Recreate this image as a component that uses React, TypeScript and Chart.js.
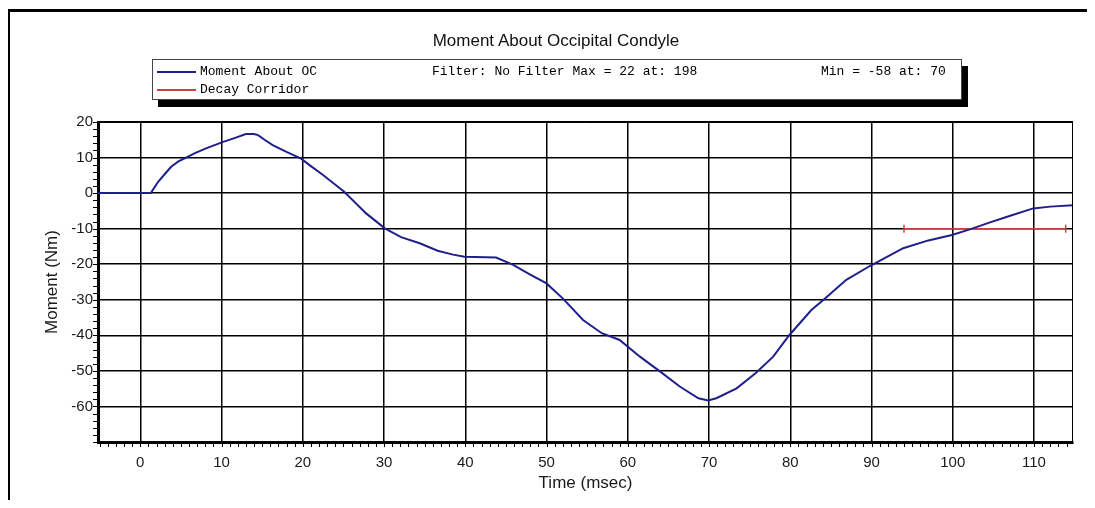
import React, { useEffect, useRef } from "react";
import { Chart, registerables } from "chart.js";

Chart.register(...registerables);

// ---- data ----
const timeMs = [
  -5.2, 0, 1.3, 2.2, 3.0, 3.8, 4.7, 5.65, 6.8, 8.1, 10.2, 11.5, 13.0, 14.0, 14.5, 15.3,
  16.3, 18.0, 19.8, 21.0, 22.5, 25.1, 27.8, 30.1, 32.1, 34.4, 36.6, 38.5, 39.9, 43.8,
  45.9, 48.0, 50.0, 52.0, 54.5, 56.8, 59.0, 61.5, 64.0, 66.4, 68.7, 69.9, 70.9, 73.4,
  75.8, 77.9, 79.9, 82.6, 84.1, 86.9, 89.8, 93.9, 97.0, 99.9, 102.1, 104.5, 106.6,
  109.9, 112.0, 114.8,
];
const momentNm = [
  0, 0, 0, 3.2, 5.3, 7.4, 8.9, 10.0, 11.3, 12.6, 14.4, 15.4, 16.6, 16.6, 16.3, 15.0,
  13.5, 11.6, 9.7, 7.6, 5.1, 0.4, -5.7, -9.9, -12.4, -14.1, -16.2, -17.3, -17.9, -18.1,
  -20.2, -22.9, -25.4, -29.6, -35.7, -39.4, -41.3, -46.0, -50.2, -54.4, -57.7, -58.3,
  -57.7, -54.9, -50.5, -46.0, -39.9, -32.9, -30.0, -24.4, -20.5, -15.5, -13.3, -11.8,
  -10.2, -8.3, -6.7, -4.3, -3.8, -3.4,
];
const corridorTime = [94.0, 113.9];
const corridorMoment = [-10, -10];

const xTickValues = [0, 10, 20, 30, 40, 50, 60, 70, 80, 90, 100, 110];
const yTickValues = [-60, -50, -40, -30, -20, -10, 0, 10, 20];

const chartTitle = "Moment About Occipital Condyle";
const seriesNames = ["Moment About OC", "Decay Corridor"];
const filterText = "Filter: No Filter Max = 22 at: 198";
const minText = "Min = -58 at: 70";
const xTitle = "Time (msec)";
const yTitle = "Moment (Nm)";

const SANS = "'Liberation Sans', Arial, 'DejaVu Sans', sans-serif";
const MONO = "'Liberation Mono', 'Courier New', 'DejaVu Sans Mono', monospace";
const BLUE = "#1f1f8c";
const RED = "#c8423e";

const minorTicks = {
  id: "minorTicks",
  afterDraw(chart: any) {
    const { ctx, chartArea, scales } = chart;
    const { left, right, top, bottom } = chartArea;
    const x = scales.x;
    const y = scales.y;
    ctx.save();
    ctx.strokeStyle = "#000";
    ctx.lineWidth = 1;
    ctx.beginPath();
    // thin top and right frame of the plot
    ctx.moveTo(left, Math.round(top) + 0.5);
    ctx.lineTo(right, Math.round(top) + 0.5);
    ctx.moveTo(Math.round(right) - 0.5, top);
    ctx.lineTo(Math.round(right) - 0.5, bottom);
    // x minor ticks (every 1 ms)
    for (let v = Math.ceil(x.min); v <= Math.floor(x.max); v++) {
      const px = Math.round(x.getPixelForValue(v)) + 0.5;
      ctx.moveTo(px, bottom);
      ctx.lineTo(px, bottom + 5);
    }
    // y minor ticks (every 2 Nm)
    for (let v = Math.ceil(y.min); v <= Math.floor(y.max); v += 2) {
      const py = Math.round(y.getPixelForValue(v)) + 0.5;
      ctx.moveTo(left - 5, py);
      ctx.lineTo(left, py);
    }
    ctx.stroke();
    ctx.restore();
  },
};

export default function App() {
  const canvasRef = useRef<HTMLCanvasElement | null>(null);

  useEffect(() => {
    const canvas = canvasRef.current;
    if (!canvas) return;
    const chart = new Chart(canvas, {
      type: "line",
      data: {
        datasets: [
          {
            label: seriesNames[0],
            data: timeMs.map((t, i) => ({ x: t, y: momentNm[i] })),
            borderColor: BLUE,
            borderWidth: 2,
            pointRadius: 0,
            tension: 0,
          },
          {
            label: seriesNames[1],
            data: corridorTime.map((t, i) => ({ x: t, y: corridorMoment[i] })),
            borderColor: RED,
            borderWidth: 1.5,
            pointStyle: "line",
            pointRotation: 90,
            pointRadius: 4,
            pointBorderColor: RED,
            pointBorderWidth: 1.5,
            tension: 0,
          },
        ],
      } as any,
      options: {
        animation: false,
        responsive: false,
        layout: { padding: { left: 38, right: 22, top: 122, bottom: 0 } },
        plugins: {
          legend: { display: false },
          tooltip: { enabled: false },
          title: { display: false },
        },
        scales: {
          x: {
            type: "linear",
            min: -5.2,
            max: 114.8,
            afterBuildTicks: (s: any) => {
              s.ticks = xTickValues.map((v) => ({ value: v }));
            },
            afterFit: (s: any) => {
              s.height = 58;
            },
            grid: { color: "#000", lineWidth: 1.5, drawTicks: false },
            border: { color: "#000", width: 3 },
            ticks: {
              color: "#1a1a1a",
              font: { family: SANS, size: 15 },
              padding: 12,
              maxRotation: 0,
              autoSkip: false,
            },
            title: {
              display: true,
              text: xTitle,
              color: "#1a1a1a",
              font: { family: SANS, size: 17 },
              padding: { top: 0, bottom: 6 },
            },
          },
          y: {
            type: "linear",
            min: -70,
            max: 20,
            afterBuildTicks: (s: any) => {
              s.ticks = yTickValues.map((v) => ({ value: v }));
            },
            afterFit: (s: any) => {
              s.width = 60;
            },
            grid: { color: "#000", lineWidth: 1.5, drawTicks: false },
            border: { color: "#000", width: 3 },
            ticks: {
              color: "#1a1a1a",
              font: { family: SANS, size: 15 },
              padding: 5,
              autoSkip: false,
            },
            title: {
              display: true,
              text: yTitle,
              color: "#1a1a1a",
              font: { family: SANS, size: 17 },
              padding: { top: 4, bottom: 0 },
            },
          },
        },
      } as any,
      plugins: [minorTicks],
    });
    return () => chart.destroy();
  }, []);

  const legendText: React.CSSProperties = {
    position: "absolute",
    fontFamily: MONO,
    fontSize: 13,
    color: "#000",
    lineHeight: "16px",
    whiteSpace: "pre",
  };

  return (
    <div
      style={{
        position: "relative",
        marginLeft: -8,
        marginTop: -8,
        width: 1095,
        height: 500,
        background: "#fff",
      }}
    >
      <canvas
        ref={canvasRef}
        width={1095}
        height={500}
        style={{ position: "absolute", left: 0, top: 0, display: "block" }}
      />
      {/* outer frame */}
      <div style={{ position: "absolute", left: 5, top: 9, width: 1090, height: 3, background: "#000" }} />
      <div style={{ position: "absolute", left: 5, top: 9, width: 5, height: 499, background: "#000" }} />
      <div style={{ position: "absolute", left: 1, top: 9, width: 1, height: 499, background: "#bbb" }} />
      {/* title */}
      <div
        style={{
          position: "absolute",
          left: 556,
          top: 31,
          transform: "translateX(-50%)",
          fontFamily: SANS,
          fontSize: 17,
          lineHeight: "20px",
          color: "#111",
          whiteSpace: "nowrap",
        }}
      >
        {chartTitle}
      </div>
      {/* legend box */}
      <div
        style={{
          position: "absolute",
          left: 152,
          top: 59,
          width: 810,
          height: 41,
          boxSizing: "border-box",
          border: "1px solid #444",
          background: "#fff",
          boxShadow: "6px 7px 0 #000",
        }}
      >
        <div style={{ position: "absolute", left: 4, top: 11, width: 39, height: 2, background: BLUE }} />
        <div style={{ position: "absolute", left: 4, top: 29, width: 39, height: 2, background: RED }} />
        <div style={{ ...legendText, left: 47, top: 4 }}>{seriesNames[0]}</div>
        <div style={{ ...legendText, left: 47, top: 22 }}>{seriesNames[1]}</div>
        <div style={{ ...legendText, left: 279, top: 4 }}>{filterText}</div>
        <div style={{ ...legendText, left: 668, top: 4 }}>{minText}</div>
      </div>
    </div>
  );
}
